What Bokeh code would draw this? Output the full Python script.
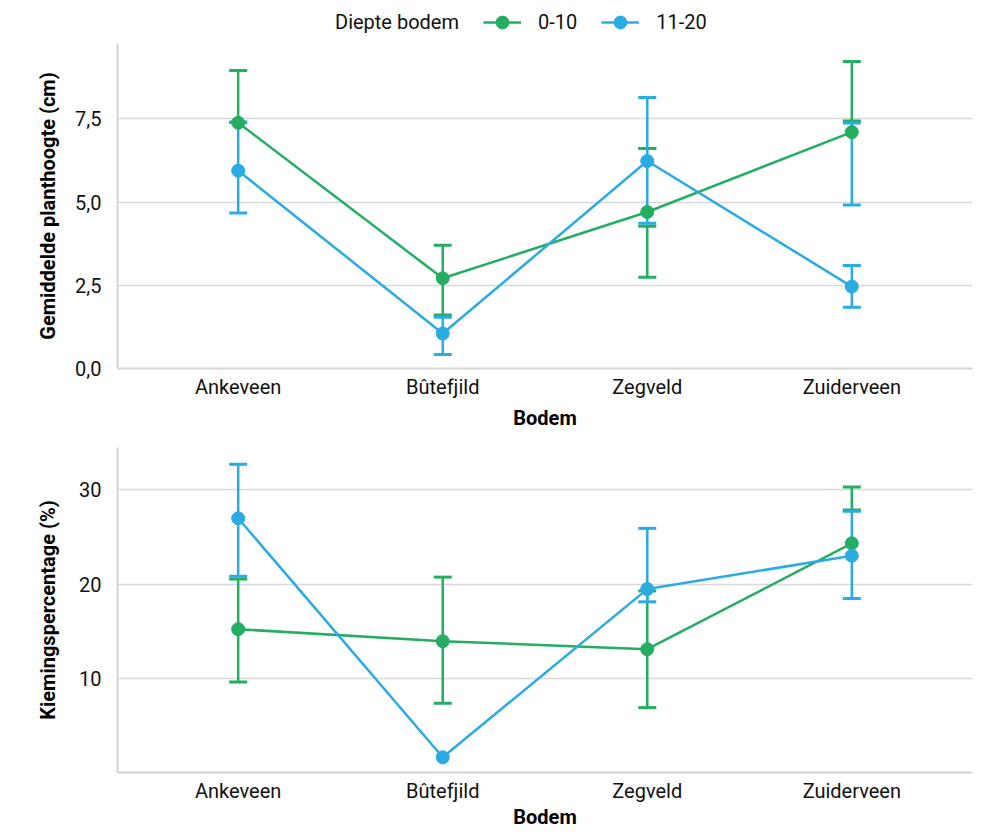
from bokeh.plotting import figure
from bokeh.models import (FactorRange, Range1d, FixedTicker, Whisker, TeeHead,
                          ColumnDataSource, Legend, LegendItem)
from bokeh.layouts import column
from bokeh.embed import file_html
from bokeh.resources import INLINE

# ---------------- data ----------------
categories = ["Ankeveen", "Bûtefjild", "Zegveld", "Zuiderveen"]
series_names = ["0-10", "11-20"]
legend_title = "Diepte bodem"
x_title = "Bodem"

# chart 1: mean plant height (cm)
height_title = "Gemiddelde planthoogte (cm)"
height_0_10 = [7.38, 2.71, 4.70, 7.10]
height_11_20 = [5.94, 1.05, 6.23, 2.46]
height_err_0_10_cat = ["Ankeveen", "Bûtefjild", "Zegveld", "Zegveld", "Zuiderveen"]
height_err_0_10_lo = [7.40, 1.61, 2.74, 6.61, 7.43]
height_err_0_10_hi = [8.95, 3.70, 4.27, 6.61, 9.22]
height_err_11_20_cat = ["Ankeveen", "Bûtefjild", "Zegveld", "Zuiderveen", "Zuiderveen"]
height_err_11_20_lo = [4.67, 0.42, 4.36, 1.84, 4.91]
height_err_11_20_hi = [7.39, 1.54, 8.14, 3.09, 7.37]
height_ticks = [0, 2.5, 5, 7.5]
height_tick_labels = ["0,0", "2,5", "5,0", "7,5"]

# chart 2: germination percentage (%)
germ_title = "Kiemingspercentage (%)"
germ_0_10 = [15.24, 13.97, 13.12, 24.34]
germ_11_20 = [27.0, 1.66, 19.49, 23.03]
germ_err_0_10_cat = ["Ankeveen", "Bûtefjild", "Zegveld", "Zuiderveen"]
germ_err_0_10_lo = [9.65, 7.39, 6.93, 27.88]
germ_err_0_10_hi = [20.55, 20.76, 19.30, 30.32]
germ_err_11_20_cat = ["Ankeveen", "Zegveld", "Zuiderveen"]
germ_err_11_20_lo = [20.84, 18.14, 18.50]
germ_err_11_20_hi = [32.73, 25.93, 27.74]
germ_ticks = [10, 20, 30]
germ_tick_labels = ["10", "20", "30"]

# ---------------- style ----------------
GREEN = "#23AE62"
BLUE = "#2AABE2"
FONT = "Roboto"
AXIS_GREY = "#d3d3d3"
GRID_GREY = "#d9d9d9"


def add_whiskers(p, cats, lo, hi, color):
    src = ColumnDataSource(dict(x=cats, lo=lo, hi=hi))
    w = Whisker(source=src, base="x", lower="lo", upper="hi", dimension="height",
                line_color=color, line_width=2.5, level="underlay",
                lower_head=TeeHead(size=18, line_color=color, line_width=3),
                upper_head=TeeHead(size=18, line_color=color, line_width=3))
    p.add_layout(w)


def build(ylabel, means_a, means_b, err_a, err_b, y_start, y_end, ticks, labels,
          height, top_border, bottom_border, tick_standoff, xlabel_standoff,
          ylabel_standoff):
    p = figure(x_range=FactorRange(factors=categories, range_padding=0.09,
                                   range_padding_units="absolute"),
               y_range=Range1d(y_start, y_end), width=982, height=height,
               output_backend="svg", toolbar_location=None,
               min_border_left=117, min_border_right=10,
               min_border_top=top_border, min_border_bottom=bottom_border)
    p.outline_line_color = None
    p.background_fill_color = "white"
    p.border_fill_color = "white"

    add_whiskers(p, *err_a, GREEN)
    add_whiskers(p, *err_b, BLUE)

    p.line(x=categories, y=means_a, line_color=GREEN, line_width=2.5)
    p.scatter(x=categories, y=means_a, marker="circle", size=13,
              fill_color=GREEN, line_color=GREEN)
    p.line(x=categories, y=means_b, line_color=BLUE, line_width=2.5)
    p.scatter(x=categories, y=means_b, marker="circle", size=13,
              fill_color=BLUE, line_color=BLUE)

    p.xgrid.grid_line_color = None
    p.ygrid.grid_line_color = GRID_GREY
    p.ygrid.grid_line_width = 1.5

    for ax in (p.xaxis[0], p.yaxis[0]):
        ax.axis_line_color = AXIS_GREY
        ax.axis_line_width = 2
        ax.major_tick_line_color = None
        ax.minor_tick_line_color = None
        ax.major_tick_out = 0
        ax.major_tick_in = 0
        ax.major_label_text_font = FONT
        ax.major_label_text_font_size = "20px"
        ax.major_label_text_color = "#111111"
        ax.axis_label_text_font = FONT
        ax.axis_label_text_font_size = "20px"
        ax.axis_label_text_font_style = "bold"
        ax.axis_label_text_color = "#000000"

    p.xaxis.axis_label = x_title
    p.xaxis.major_label_standoff = tick_standoff
    p.xaxis.axis_label_standoff = xlabel_standoff
    p.yaxis.axis_label = ylabel
    p.yaxis.ticker = FixedTicker(ticks=ticks)
    p.yaxis.major_label_overrides = {t: l for t, l in zip(ticks, labels)}
    p.yaxis.major_label_standoff = 16
    p.yaxis.axis_label_standoff = ylabel_standoff
    return p


# ---------------- legend strip ----------------
leg = figure(width=982, height=38, output_backend="svg", toolbar_location=None,
             x_axis_type=None, y_axis_type=None, x_range=Range1d(0, 1),
             y_range=Range1d(0, 1), min_border=0)
leg.outline_line_color = None
leg.xgrid.grid_line_color = None
leg.ygrid.grid_line_color = None
off = [-10]  # legend-only renderers sit outside the visible range
dummy = leg.scatter(x=off, y=off, marker="circle", size=1, fill_alpha=0, line_alpha=0)
lg_l = leg.line(x=off, y=off, line_color=GREEN, line_width=2.5)
lg_s = leg.scatter(x=off, y=off, marker="circle", size=13, fill_color=GREEN, line_color=GREEN)
lb_l = leg.line(x=off, y=off, line_color=BLUE, line_width=2.5)
lb_s = leg.scatter(x=off, y=off, marker="circle", size=13, fill_color=BLUE, line_color=BLUE)
legend = Legend(items=[LegendItem(label=legend_title, renderers=[dummy]),
                       LegendItem(label=series_names[0], renderers=[lg_l, lg_s]),
                       LegendItem(label=series_names[1], renderers=[lb_l, lb_s])],
                orientation="horizontal", location=(163, 0),
                glyph_width=38, glyph_height=32, label_standoff=17, spacing=24,
                padding=0, margin=0, border_line_alpha=0, background_fill_alpha=0,
                label_text_font=FONT, label_text_font_size="20px",
                label_text_color="#111111")
leg.add_layout(legend)

p1 = build(height_title, height_0_10, height_11_20,
           (height_err_0_10_cat, height_err_0_10_lo, height_err_0_10_hi),
           (height_err_11_20_cat, height_err_11_20_lo, height_err_11_20_hi),
           0, 9.76, height_ticks, height_tick_labels,
           height=395, top_border=5, bottom_border=65,
           tick_standoff=6, xlabel_standoff=4, ylabel_standoff=12)

p2 = build(germ_title, germ_0_10, germ_11_20,
           (germ_err_0_10_cat, germ_err_0_10_lo, germ_err_0_10_hi),
           (germ_err_11_20_cat, germ_err_11_20_lo, germ_err_11_20_hi),
           0.05, 34.5, germ_ticks, germ_tick_labels,
           height=398, top_border=14, bottom_border=59,
           tick_standoff=6, xlabel_standoff=-1, ylabel_standoff=16)

layout = column(leg, p1, p2)
open("out.html", "w").write(file_html(layout, INLINE))
